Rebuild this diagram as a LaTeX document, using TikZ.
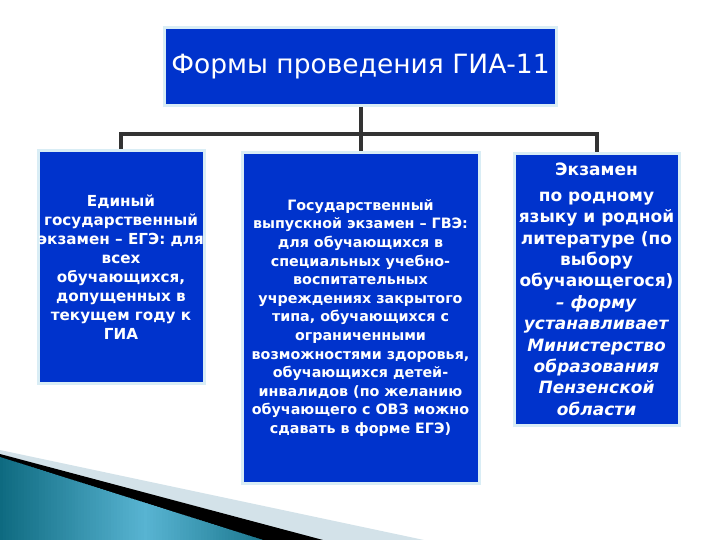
\documentclass[tikz,border=0pt]{standalone}
\usepackage{fontspec}
\setmainfont{DejaVu Sans}
\usepackage{xcolor}
\usepackage{tikz}
\usetikzlibrary{positioning}
\definecolor{boxblue}{HTML}{0033CC}
\definecolor{halo}{HTML}{D9EDF5}
\definecolor{linegray}{HTML}{333333}
\definecolor{wedgedark}{HTML}{0E6A80}
\definecolor{wedgelight}{HTML}{58B4D2}
\definecolor{wedgegray}{HTML}{D3E2E9}
\tikzset{
  formbox/.style={draw=halo, line width=3pt, fill=boxblue, text=white, inner sep=0pt, align=center},
  link/.style={draw=linegray, line width=4pt}
}

\begin{document}
\begin{tikzpicture}[x=1pt, y=-1pt]
  \useasboundingbox (0,0) rectangle (720,540);

  \fill[wedgegray] (0,450) -- (424,540) -- (0,540) -- cycle;
  \fill[black] (0,454) -- (323,540) -- (0,540) -- cycle;
  \begin{scope}
    \clip (0,457) -- (263,540) -- (0,540) -- cycle;
    \foreach \i in {0,...,88} {
      \pgfmathtruncatemacro\mix{100*abs(\i-48)/48}
      \fill[wedgedark!\mix!wedgelight] (\i*3,450) rectangle (\i*3+3.5,540);
    }
  \end{scope}

  \node[formbox, minimum width=392pt, minimum height=78pt, font=\fontsize{26.5}{30}\selectfont] (title) at (360.5,66.5) {Формы проведения ГИА-11};

  \node[formbox, minimum width=166pt, minimum height=233pt, font=\bfseries\fontsize{15.2}{19}\selectfont] (ege) at (121,267)
    {Единый\\государственный\\экзамен – ЕГЭ: для\\всех\\обучающихся,\\допущенных в\\текущем году к\\ГИА};

  \node[formbox, minimum width=237pt, minimum height=330pt, font=\bfseries\fontsize{14.3}{18.6}\selectfont] (gve) at (360.5,318)
    {Государственный\\выпускной экзамен – ГВЭ:\\для обучающихся в\\специальных учебно-\\воспитательных\\учреждениях закрытого\\типа, обучающихся с\\ограниченными\\возможностями здоровья,\\обучающихся детей-\\инвалидов (по желанию\\обучающего с ОВЗ  можно\\сдавать в форме ЕГЭ)};

  \node[formbox, minimum width=165pt, minimum height=271pt, font=\bfseries\fontsize{17}{21.4}\selectfont] (native) at (596.5,289.5)
    {Экзамен\\[4pt]по родному\\языку и родной\\литературе (по\\выбору\\обучающегося)\\\textit{– форму}\\\textit{устанавливает}\\\textit{Министерство}\\\textit{образования}\\\textit{Пензенской}\\\textit{области}};

  \coordinate (bus) at (360.5,134);
  \draw[link] (title.south) -- (gve.north);
  \draw[link] (ege.north) |- (bus) -| (native.north);
\end{tikzpicture}
\end{document}
